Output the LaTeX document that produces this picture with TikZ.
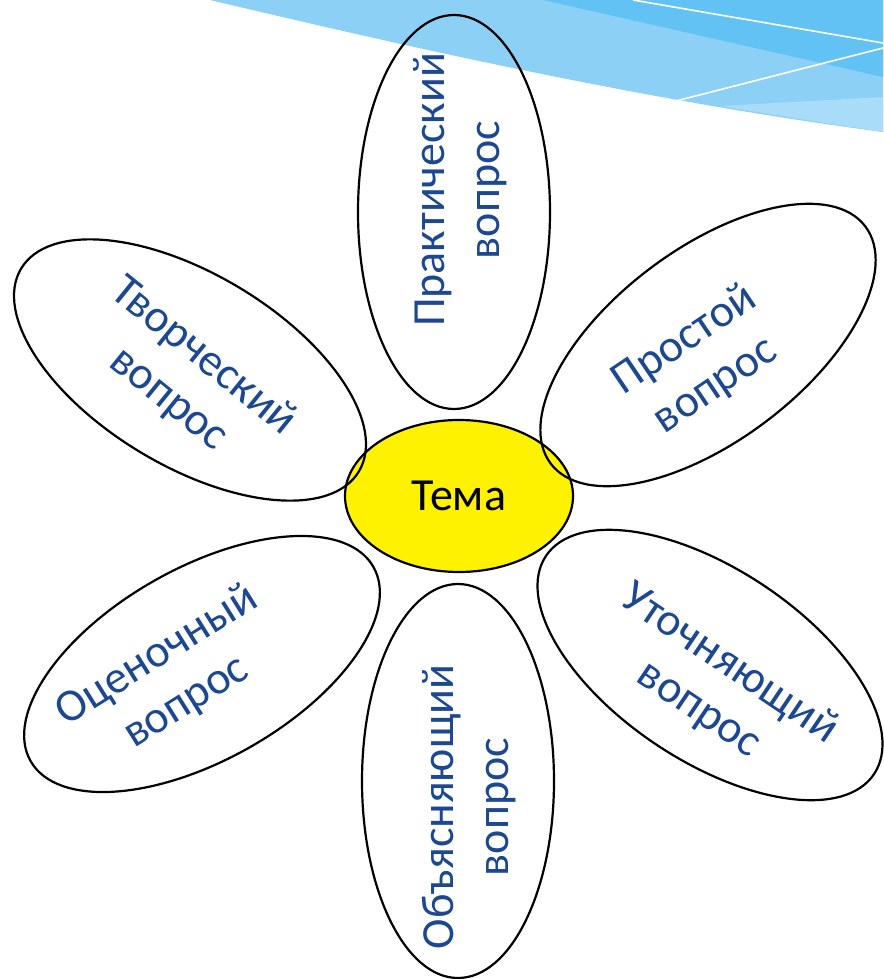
\documentclass[tikz,border=0pt]{standalone}
\usepackage{fontspec}
\setmainfont{Carlito}
\usetikzlibrary{shapes.geometric}
\definecolor{petaltext}{RGB}{28,72,145}
\definecolor{skydark}{RGB}{98,194,243}
\definecolor{skylight}{RGB}{141,208,245}
\definecolor{skypale}{RGB}{168,220,248}
\begin{document}
\begin{tikzpicture}[x=1pt,y=-1pt,
  petal/.style={draw=black, line width=2.2pt, ellipse, inner sep=0pt,
    minimum width=394pt, minimum height=192pt},
  core/.style={draw=black, line width=2.2pt, ellipse, fill=yellow, inner sep=0pt,
    minimum width=228pt, minimum height=152pt, font=\fontsize{46}{55}\selectfont},
  petaltxt/.style={text=petaltext, font=\fontsize{46}{55}\selectfont, align=center, inner sep=0pt},
  swooshline/.style={white, line width=1.6pt}
]
\useasboundingbox (0,0) rectangle (883,979);
\fill[white] (0,0) rectangle (883,979);
% background swoosh
\fill[skylight] (210,0) .. controls (400,45) and (640,100) .. (883,132) -- (883,0) -- cycle;
\fill[skypale] (720,106) -- (883,97) -- (883,132) -- (800,119) -- cycle;
\fill[skydark] (543,0) -- (883,77) -- (883,0) -- cycle;
\draw[swooshline] (633,0) -- (883,43);
\draw[swooshline] (883,48) -- (672,102);
% centre
\node[core] (tema) at (459,496) {Тема};
% petals
\node[petal, rotate=90] (prakt) at (454,212) {};
\node[petal, rotate=90] (obyasn) at (458,781) {};
\node[petal, rotate=-31] (tvorch) at (190,370) {};
\node[petal, rotate=37] (prost) at (708,345) {};
\node[petal, rotate=-33.6] (utoch) at (710,665) {};
\node[petal, rotate=29.5] (otsen) at (202,664) {};
% petal texts
\node[petaltxt, rotate=90] (praktT) at (460,190) {Практический\\вопрос};
\node[petaltxt, rotate=90] (obyasnT) at (469,807) {Объясняющий\\вопрос};
\node[petaltxt, rotate=-39] (tvorchT) at (186,378) {Творческий\\вопрос};
\node[petaltxt, rotate=34] (prostT) at (700,363) {Простой\\вопрос};
\node[petaltxt, rotate=-34] (utochT) at (714,687) {Уточняющий\\вопрос};
\node[petaltxt, rotate=32] (otsenT) at (172,679) {Оценочный\\вопрос};
\end{tikzpicture}
\end{document}
